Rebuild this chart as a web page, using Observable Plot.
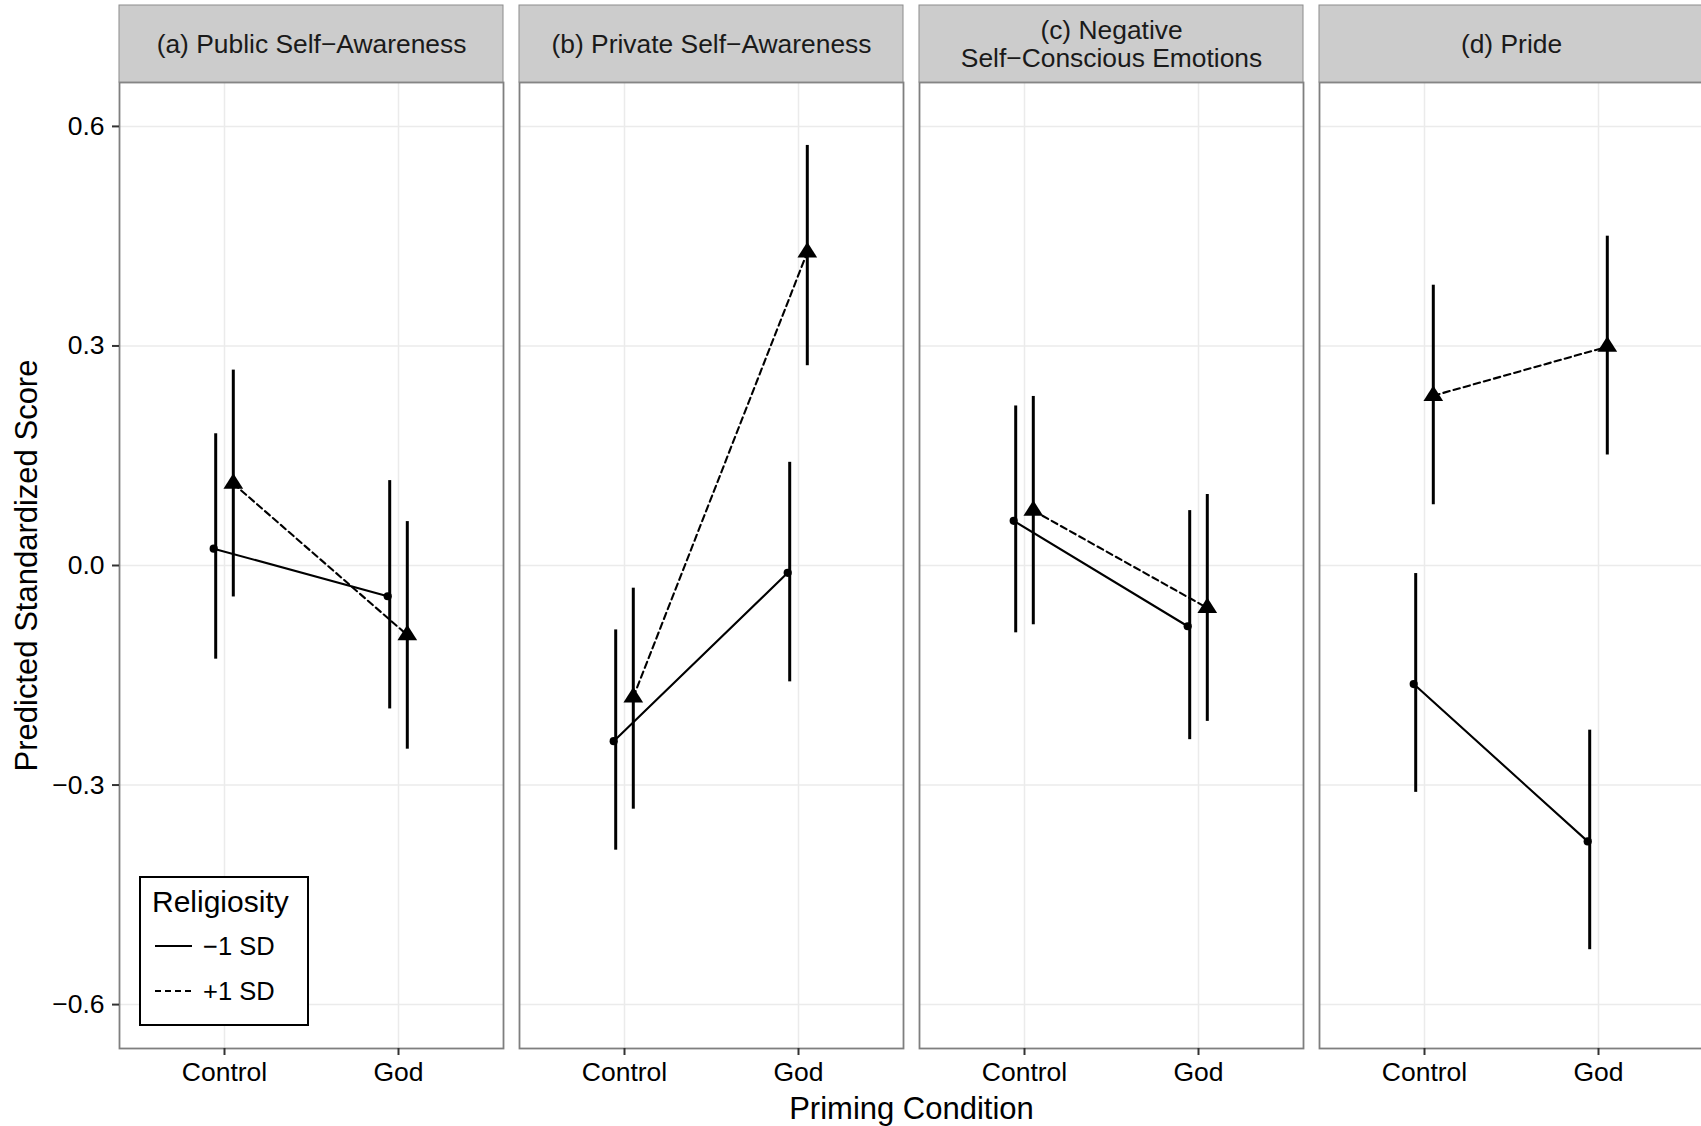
<!DOCTYPE html>
<html>
<head>
<meta charset="utf-8">
<script src="https://cdn.jsdelivr.net/npm/d3@7"></script>
<script src="https://cdn.jsdelivr.net/npm/@observablehq/plot@0.6"></script>
<style>
  html, body { margin: 0; padding: 0; background: #fff; overflow: hidden; }
  #chart { position: relative; width: 1701px; height: 1126px; }
  #chart svg [aria-label="y-axis label"], #chart svg [aria-label="x-axis label"] { font-size: 31px; }
  #legend { position: absolute; left: 139px; top: 876px; }
</style>
</head>
<body>
<div id="chart"></div>
<script>
// ---- data ----
const panels = [
  "(a) Public Self\u2212Awareness",
  "(b) Private Self\u2212Awareness",
  "(c) Negative\nSelf\u2212Conscious Emotions",
  "(d) Pride"
];
const conditions = ["Control", "God"];
const groups = ["\u22121 SD", "+1 SD"];
const legendTitle = "Religiosity";
const yTicks = [-0.6, -0.3, 0, 0.3, 0.6];
const xTitle = "Priming Condition";
const yTitle = "Predicted Standardized Score";

// -1 SD religiosity: [panel][condition]
const lowMean = [[0.023, -0.042], [-0.240, -0.010], [0.061, -0.083], [-0.162, -0.377]];
const lowLo   = [[-0.128, -0.196], [-0.389, -0.159], [-0.092, -0.238], [-0.310, -0.525]];
const lowHi   = [[0.180, 0.116], [-0.088, 0.141], [0.218, 0.075], [-0.011, -0.225]];
// +1 SD religiosity
const highMean = [[0.112, -0.095], [-0.180, 0.428], [0.075, -0.058], [0.232, 0.299]];
const highLo   = [[-0.043, -0.251], [-0.333, 0.273], [-0.081, -0.213], [0.083, 0.151]];
const highHi   = [[0.267, 0.060], [-0.031, 0.574], [0.231, 0.097], [0.383, 0.450]];

// ---- table built from the arrays ----
const rows = [];
panels.forEach((p, i) => conditions.forEach((c, j) => {
  rows.push({panel: p, cond: c, group: groups[0], mean: lowMean[i][j], lo: lowLo[i][j], hi: lowHi[i][j]});
  rows.push({panel: p, cond: c, group: groups[1], mean: highMean[i][j], lo: highLo[i][j], hi: highHi[i][j]});
}));
const low = rows.filter(d => d.group === groups[0]);
const high = rows.filter(d => d.group === groups[1]);

const fmt = d => (d < 0 ? "\u2212" : "") + Math.abs(d).toFixed(1);

// slightly wide filled triangle (centroid at the data point)
const wideTriangle = {
  draw(ctx, size) {
    const r = Math.sqrt(size / Math.PI);
    const w = 1.45 * r, h = 2.28 * r;
    ctx.moveTo(0, -2 * h / 3);
    ctx.lineTo(w, h / 3);
    ctx.lineTo(-w, h / 3);
    ctx.closePath();
  }
};

const W = 1701, H = 1126, mT = 82, mB = 78;
const frameH = H - mT - mB;

const chart = Plot.plot({
  width: W,
  height: H,
  marginTop: mT,
  marginBottom: mB,
  marginLeft: 118,
  marginRight: -2,
  style: {fontFamily: "'Liberation Sans', Arial, Helvetica, sans-serif", background: "white", color: "black", overflow: "visible"},
  fx: {domain: panels, paddingInner: 0.0407, paddingOuter: 0, axis: null, label: null},
  x: {type: "point", domain: conditions, padding: 0.6},
  y: {domain: [-0.66, 0.66]},
  marks: [
    Plot.gridY(yTicks, {stroke: "#ebebeb", strokeOpacity: 1, strokeWidth: 1.5}),
    Plot.gridX(conditions, {stroke: "#ebebeb", strokeOpacity: 1, strokeWidth: 1.5}),
    Plot.frame({stroke: "#7f7f7f", strokeWidth: 1.8}),
    Plot.rect(panels, {fx: d => d, fill: "#cccccc", stroke: "#8c8c8c", strokeWidth: 1, insetTop: -77, insetBottom: frameH}),
    Plot.text(panels, {fx: d => d, text: d => d, frameAnchor: "top", dy: -38.5, lineAnchor: "middle", lineHeight: 1.04, fontSize: 26.4, fill: "#1a1a1a"}),
    Plot.axisY({ticks: yTicks, tickFormat: fmt, tickSize: 7, tickPadding: 8, fontSize: 26.5, stroke: "#333", strokeWidth: 2, fill: "black",
      label: yTitle, labelAnchor: "center", labelArrow: "none", labelOffset: 105}),
    Plot.axisX({tickSize: 7, tickPadding: 7, fontSize: 26.5, stroke: "#333", strokeWidth: 2, fill: "black",
      label: xTitle, labelAnchor: "center", labelArrow: "none", labelOffset: 70}),
    Plot.ruleX(low, {fx: "panel", x: "cond", y1: "lo", y2: "hi", dx: -8.8, stroke: "black", strokeWidth: 3}),
    Plot.ruleX(high, {fx: "panel", x: "cond", y1: "lo", y2: "hi", dx: 8.8, stroke: "black", strokeWidth: 3}),
    Plot.line(low, {fx: "panel", x: "cond", y: "mean", dx: -10.8, stroke: "black", strokeWidth: 2.1}),
    Plot.line(high, {fx: "panel", x: "cond", y: "mean", dx: 8.8, stroke: "black", strokeWidth: 2.1, strokeDasharray: "6.5,4"}),
    Plot.dot(low, {fx: "panel", x: "cond", y: "mean", dx: -10.8, r: 4.1, fill: "black", stroke: "none"}),
    Plot.dot(high, {fx: "panel", x: "cond", y: "mean", dx: 8.8, r: 6.8, symbol: wideTriangle, fill: "black", stroke: "none"})
  ]
});
document.getElementById("chart").appendChild(chart);

// ---- inset legend ----
const lg = d3.select("#chart").append("svg").attr("id", "legend")
  .attr("width", 170).attr("height", 150)
  .style("font-family", "'Liberation Sans', Arial, Helvetica, sans-serif");
lg.append("rect").attr("x", 1).attr("y", 1).attr("width", 168).attr("height", 148)
  .attr("fill", "white").attr("stroke", "black").attr("stroke-width", 2);
lg.append("text").attr("x", 13).attr("y", 36).attr("font-size", 30).attr("fill", "black").text(legendTitle);
const dashes = [null, "6,4"];
groups.forEach((g, i) => {
  const yy = 70 + i * 45;
  lg.append("line").attr("x1", 16).attr("x2", 53).attr("y1", yy).attr("y2", yy)
    .attr("stroke", "black").attr("stroke-width", 2.1).attr("stroke-dasharray", dashes[i]);
  lg.append("text").attr("x", 64).attr("y", yy + 9).attr("font-size", 25.5).attr("fill", "black").text(g);
});
</script>
</body>
</html>
